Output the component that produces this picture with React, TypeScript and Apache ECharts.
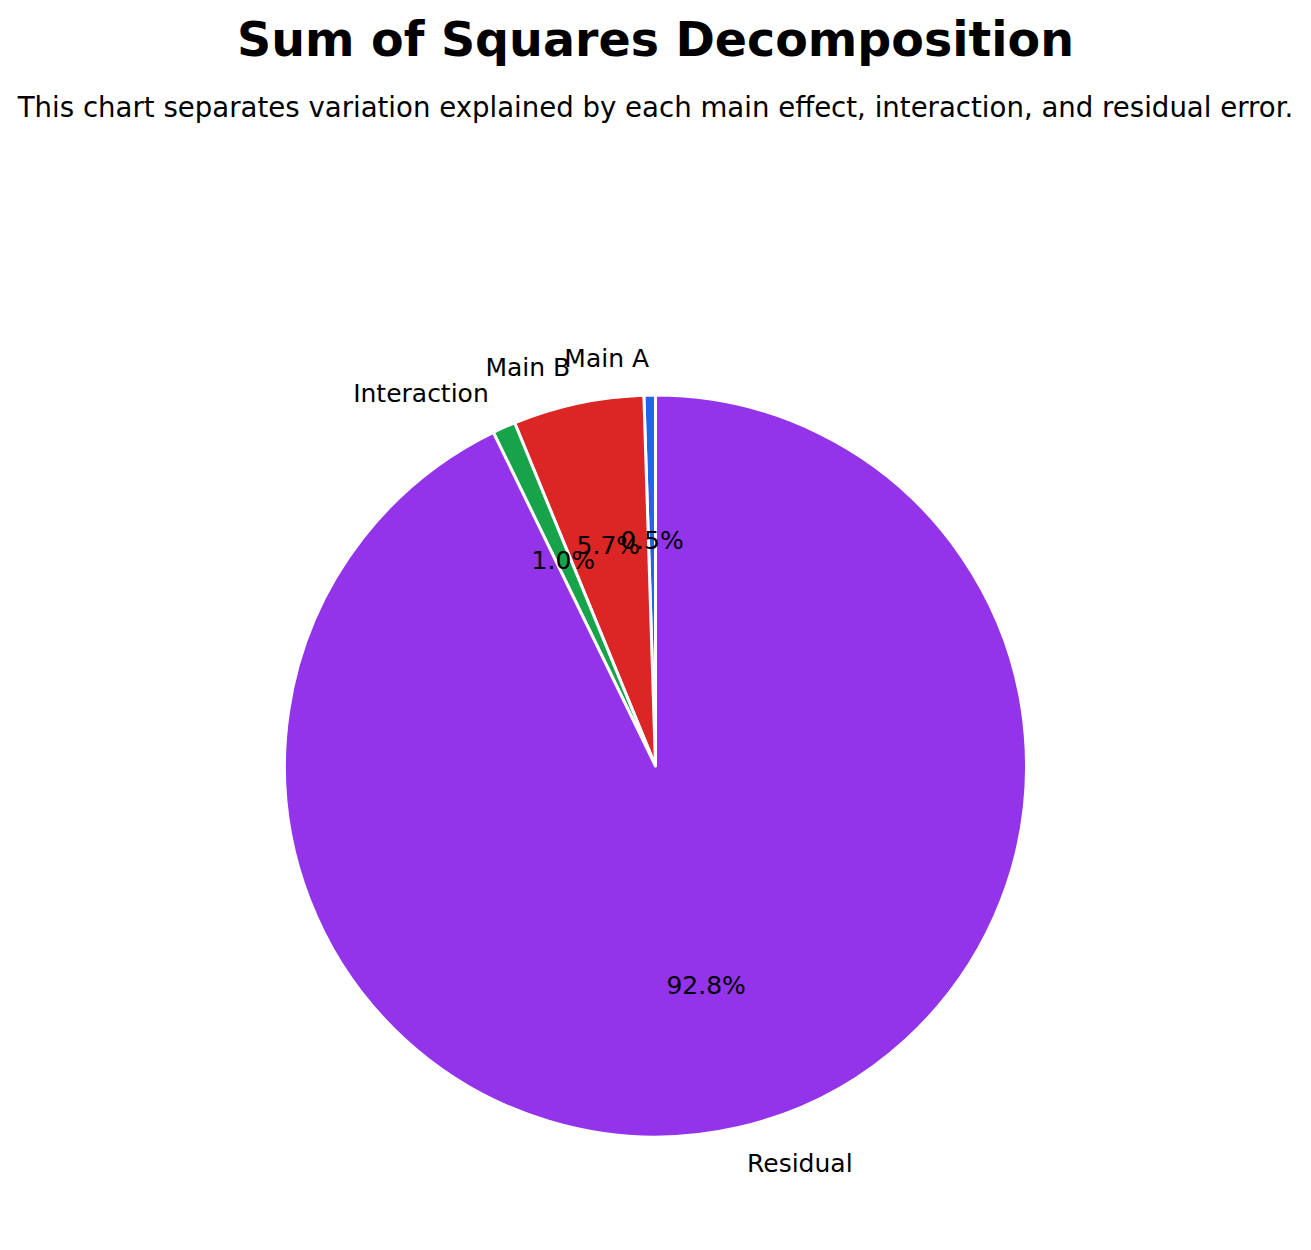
import React, { useEffect, useRef } from "react";
import * as echarts from "echarts";

const TITLE = "Sum of Squares Decomposition";
const SUBTITLE =
  "This chart separates variation explained by each main effect, interaction, and residual error.";
const categories = ["Main A", "Main B", "Interaction", "Residual"];
const shares = [0.5, 5.7, 1.0, 92.8];
const colors = ["#2563eb", "#dc2626", "#16a34a", "#9333ea"];

const FONT = "DejaVu Sans";

export default function App() {
  const ref = useRef<HTMLDivElement>(null);
  useEffect(() => {
    document.body.style.margin = "0";
    if (!ref.current) return;
    const chart = echarts.init(ref.current, undefined, { renderer: "svg" });
    const R = 371;
    const center = [655.5, 766];
    const data = categories.map((name, i) => ({
      name,
      value: shares[i],
      itemStyle: { color: colors[i] },
    }));
    chart.setOption({
      animation: false,
      backgroundColor: "#ffffff",
      title: [
        {
          text: TITLE,
          left: "center",
          top: 10,
          textStyle: {
            fontFamily: FONT,
            fontWeight: "bold",
            fontSize: 47.5,
            color: "#000",
          },
        },
        {
          text: SUBTITLE,
          left: "center",
          top: 88,
          textStyle: {
            fontFamily: FONT,
            fontWeight: "normal",
            fontSize: 27.6,
            color: "#000",
          },
        },
      ],
      series: [
        {
          type: "pie",
          center,
          radius: [0, R],
          startAngle: 90,
          clockwise: false,
          avoidLabelOverlap: false,
          silent: true,
          itemStyle: { borderColor: "#ffffff", borderWidth: 3 },
          label: {
            show: true,
            position: "outside",
            distanceToLabelLine: 0,
            fontFamily: FONT,
            fontSize: 25,
            color: "#000",
            formatter: "{b}",
          },
          labelLine: { show: false, length: 37, length2: 0 },
          labelLayout: { hideOverlap: false },
          data,
        },
        {
          type: "pie",
          center,
          radius: [0.6 * R - 1, 0.6 * R + 1],
          startAngle: 90,
          clockwise: false,
          avoidLabelOverlap: false,
          silent: true,
          z: 5,
          itemStyle: { color: "rgba(0,0,0,0)", borderWidth: 0 },
          label: {
            show: true,
            position: "inside",
            fontFamily: FONT,
            fontSize: 25,
            color: "#000",
            formatter: (p: any) => `${p.value.toFixed(1)}%`,
          },
          labelLine: { show: false },
          labelLayout: { hideOverlap: false },
          data: categories.map((name, i) => ({ name, value: shares[i] })),
        },
      ],
    });
    return () => chart.dispose();
  }, []);
  return <div ref={ref} style={{ width: 1311, height: 1250 }} />;
}
